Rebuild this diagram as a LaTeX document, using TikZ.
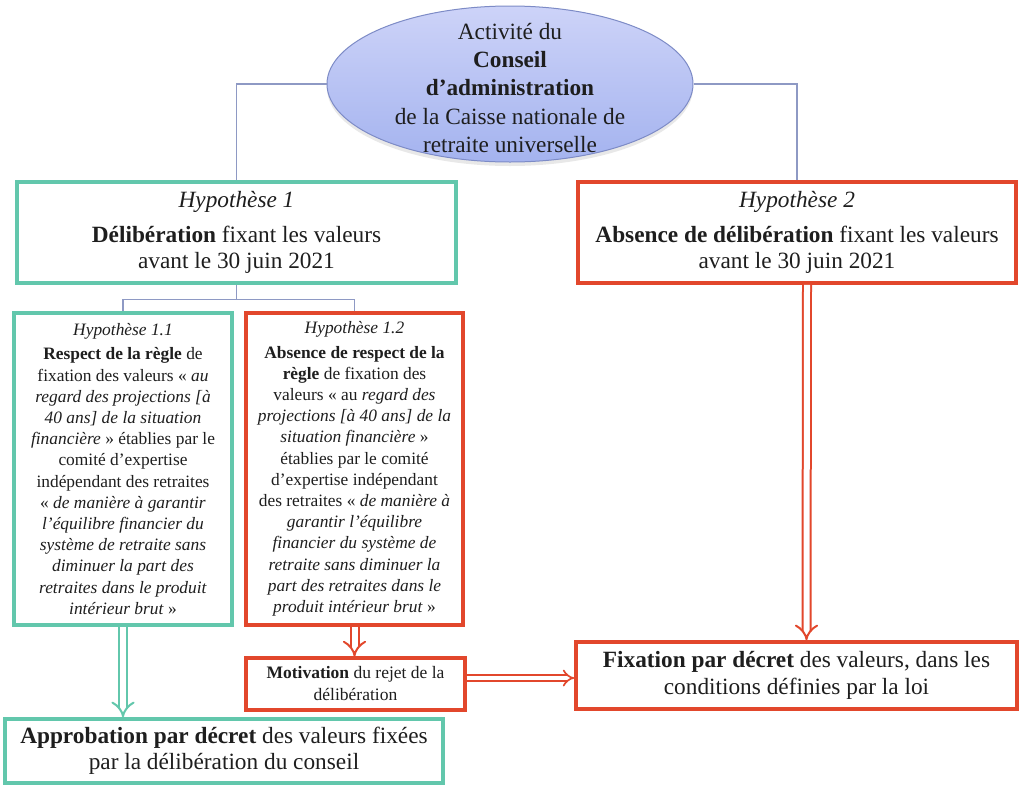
\documentclass[tikz,border=0pt]{standalone}
\usepackage{fontspec}
\setmainfont{Liberation Serif}
\usetikzlibrary{shapes.geometric,arrows.meta,shadows,calc}
\definecolor{vert}{HTML}{62C7AC}
\definecolor{rouge}{HTML}{E2472C}
\definecolor{lien}{HTML}{8E99C4}
\definecolor{ellbord}{HTML}{7D8BC6}
\definecolor{elltop}{HTML}{CDD3F8}
\definecolor{ellbot}{HTML}{A4B3EF}
\definecolor{encre}{HTML}{1E1E1E}
\begin{document}
\begin{tikzpicture}[x=1pt,y=-1pt,
  box/.style={draw, rectangle, line width=3.6pt, inner sep=0pt, align=center, text=encre},
  vbox/.style={box, draw=vert},
  rbox/.style={box, draw=rouge},
  big/.style={font=\fontsize{23.3}{26.5}\selectfont},
  small/.style={font=\fontsize{17.4}{21.2}\selectfont},
  conn/.style={draw=lien, line width=1.1pt},
  dbl/.style={double=white, double distance=6pt, line width=2pt, -{Implies}},
]
\useasboundingbox (0,0) rectangle (1020,785);
\fill[white] (0,0) rectangle (1020,785);

% ellipse
\node[ellipse, draw=ellbord, line width=1pt, top color=elltop, bottom color=ellbot,
      minimum width=366pt, minimum height=156pt, inner sep=0pt,
      drop shadow={opacity=0.18, shadow xshift=0pt, shadow yshift=-4pt}] (ell) at (510,84) {};
\node[align=center, text=encre, font=\fontsize{23.3}{28.3}\selectfont] (elltxt) at (510,88)
  {Activité du\\ \textbf{Conseil}\\ \textbf{d’administration}\\ de la Caisse nationale de\\ retraite universelle};

% boxes
\node[vbox, big, minimum width=439pt, minimum height=101pt] (hyp1) at (236.5,232.5)
  {\textit{Hypothèse 1}\\[8pt] \textbf{Délibération} fixant les valeurs\\ avant le 30 juin 2021};
\node[rbox, big, minimum width=438pt, minimum height=101pt] (hyp2) at (797,232.5)
  {\textit{Hypothèse 2}\\[8pt] \textbf{Absence de délibération} fixant les valeurs\\ avant le 30 juin 2021};

\node[vbox, small, minimum width=218pt, minimum height=312pt] (h11) at (123,469)
  {\textit{Hypothèse 1.1}\\[3pt]
   \textbf{Respect de la règle} de\\
   fixation des valeurs « \textit{au}\\
   \textit{regard des projections [à}\\
   \textit{40 ans] de la situation}\\
   \textit{financière} » établies par le\\
   comité d’expertise\\
   indépendant des retraites\\
   « \textit{de manière à garantir}\\
   \textit{l’équilibre financier du}\\
   \textit{système de retraite sans}\\
   \textit{diminuer la part des}\\
   \textit{retraites dans le produit}\\
   \textit{intérieur brut} »};

\node[rbox, small, minimum width=217pt, minimum height=312pt] (h12) at (354.5,469)
  {\textit{Hypothèse 1.2}\\[3pt]
   \textbf{Absence de respect de la}\\
   \textbf{règle} de fixation des\\
   valeurs « au \textit{regard des}\\
   \textit{projections [à 40 ans] de la}\\
   \textit{situation financière} »\\
   établies par le comité\\
   d’expertise indépendant\\
   des retraites « \textit{de manière à}\\
   \textit{garantir l’équilibre}\\
   \textit{financier du système de}\\
   \textit{retraite sans diminuer la}\\
   \textit{part des retraites dans le}\\
   \textit{produit intérieur brut} »};

\node[rbox, line width=3.2pt, font=\fontsize{17.5}{22}\selectfont, minimum width=219pt, minimum height=52pt] (mot) at (355.5,684)
  {\textbf{Motivation} du rejet de la\\ délibération};

\node[rbox, big, minimum width=441pt, minimum height=67pt] (fix) at (796.5,675.5)
  {\textbf{Fixation par décret} des valeurs, dans les\\ conditions définies par la loi};

\node[vbox, big, minimum width=438pt, minimum height=64pt] (appr) at (224,751)
  {\textbf{Approbation par décret} des valeurs fixées\\ par la délibération du conseil};

% thin connectors
\draw[conn] (ell.west) -| (hyp1.north);
\draw[conn] (ell.east) -| (hyp2.north);
\draw[conn] (hyp1.south) -- ++(0,15) coordinate (split) -| (h11.north);
\draw[conn] (split) -| (h12.north);

% double arrows
\draw[dbl, draw=vert] (h11.south) -- (h11.south |- appr.north);
\draw[dbl, draw=rouge] (h12.south) -- (h12.south |- mot.north);
\draw[dbl, draw=rouge, double distance=4pt, line width=1.7pt] ([yshift=6pt]mot.east) -- ([yshift=6pt]mot.east -| fix.west);
\draw[dbl, draw=rouge] ([xshift=10pt]hyp2.south) -- ([xshift=10pt]fix.north);
\end{tikzpicture}
\end{document}
